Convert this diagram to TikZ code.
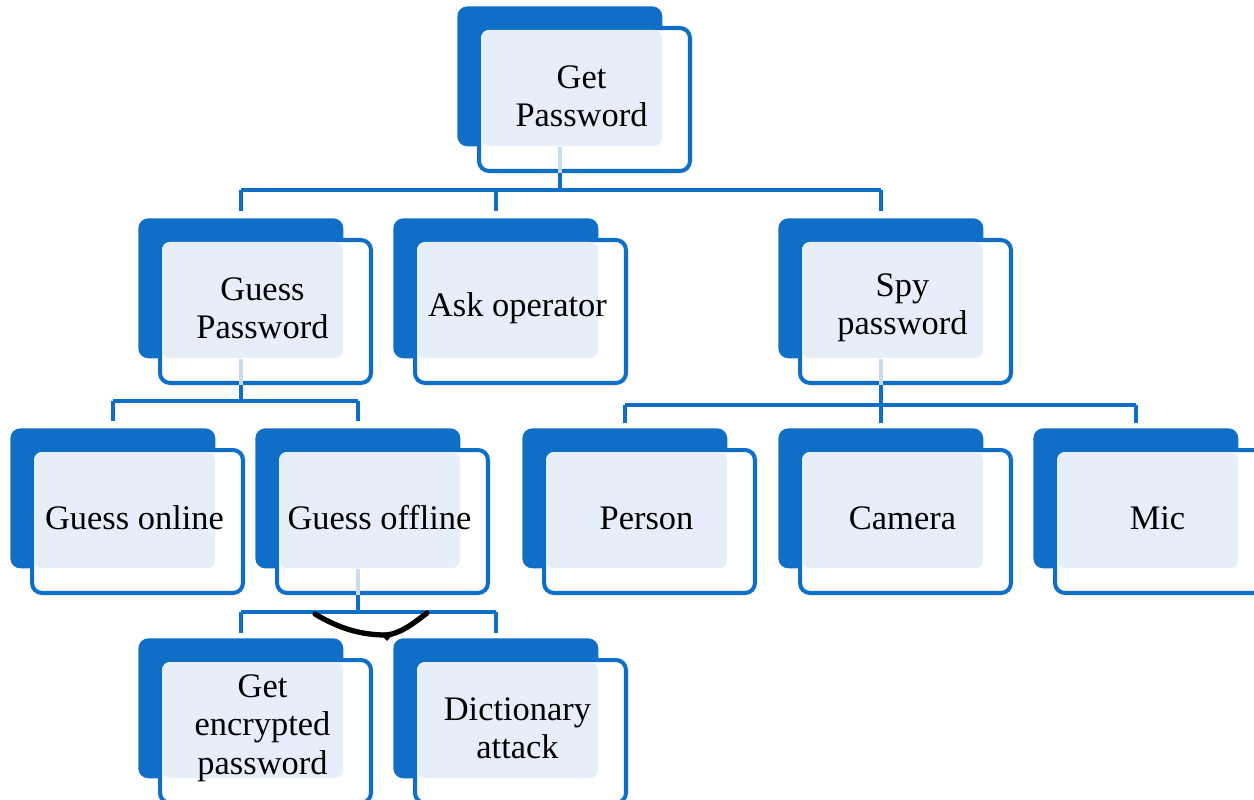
\documentclass[tikz,border=0pt]{standalone}
\usepackage{fontspec}
\setmainfont{Liberation Serif}
\definecolor{dblue}{HTML}{0F6FC6}
\definecolor{lblue}{HTML}{E6EFF9}
\definecolor{faintblue}{HTML}{C9DCF0}
\tikzset{
  backbox/.style={fill=dblue, draw=none, rounded corners=0.2cm, minimum width=4.1cm, minimum height=2.8cm, inner sep=0pt, anchor=north west},
  frontbox/.style={fill=white, draw=dblue, line width=2.3pt, rounded corners=0.2cm, minimum width=4.22cm, minimum height=2.86cm, inner sep=0pt, anchor=north west},
  lightbox/.style={fill=lblue, rounded corners=0.16cm},
  label/.style={draw=none, fill=none, align=center, font=\fontsize{19.6}{21.8}\selectfont, text=black, inner sep=0pt},
  conn/.style={draw=dblue, line width=2.3pt},
  faintconn/.style={draw=faintblue, line width=2.3pt},
}
\newcommand\treebox[4]{%
  \node[backbox] (#1b) at (#2,#3) {};
  \node[frontbox] (#1f) at (#2+20,#3+20) {};
  \fill[lightbox] (#2+24,#3+24) rectangle (#2+205,#3+140);
  \node[label] (#1) at ([xshift=-0.06cm, yshift=0.07cm]#1f.center) {#4};
}
\begin{document}
\begin{tikzpicture}[x=0.02cm, y=-0.02cm]
\useasboundingbox (0,0) rectangle (1254,800);
\fill[white] (0,0) rectangle (1254,800);

\treebox{gp}{457}{6}{Get\\Password}
\treebox{guess}{138}{218}{Guess\\Password}
\treebox{ask}{393}{218}{Ask operator}
\treebox{spy}{778}{218}{Spy\\password}
\treebox{gon}{10}{428}{Guess online}
\treebox{goff}{255}{428}{Guess offline}
\treebox{person}{522}{428}{Person}
\treebox{camera}{778}{428}{Camera}
\treebox{mic}{1033}{428}{Mic}
\treebox{genc}{138}{638}{Get\\encrypted\\password}
\treebox{dict}{393}{638}{Dictionary\\attack}

% bus coordinates
\coordinate (bus1) at (0,190);
\coordinate (bus2) at (0,401);
\coordinate (bus3) at (0,405);
\coordinate (bus4) at (0,612);

% Get Password -> level 2
\draw[faintconn] (gpb.south) -- (gpb.south |- gpf.south);
\draw[conn] (gpb.south |- gpf.south) -- (gpb.south |- bus1);
\draw[conn, shorten >=4pt] (guessb.north |- bus1) -- (guessb.north);
\draw[conn, shorten >=4pt] (askb.north |- bus1) -- (askb.north);
\draw[conn, shorten >=4pt] (spyb.north |- bus1) -- (spyb.north);
\draw[conn] (guessb.north |- bus1) -- (spyb.north |- bus1);

% Guess Password -> level 3
\draw[faintconn] (guessb.south) -- (guessb.south |- guessf.south);
\draw[conn] (guessb.south |- guessf.south) -- (guessb.south |- bus2);
\draw[conn] (gonb.north |- bus2) -- (goffb.north |- bus2);
\draw[conn, shorten >=4pt] (gonb.north |- bus2) -- (gonb.north);
\draw[conn, shorten >=4pt] (goffb.north |- bus2) -- (goffb.north);

% Spy password -> level 3
\draw[faintconn] (spyb.south) -- (spyb.south |- spyf.south);
\draw[conn] (spyb.south |- spyf.south) -- (spyb.south |- bus3);
\draw[conn] (personb.north |- bus3) -- (micb.north |- bus3);
\draw[conn, shorten >=3pt] (personb.north |- bus3) -- (personb.north);
\draw[conn, shorten >=3pt] (camerab.north |- bus3) -- (camerab.north);
\draw[conn, shorten >=3pt] (micb.north |- bus3) -- (micb.north);

% Guess offline -> level 4
\draw[faintconn] (goffb.south) -- (goffb.south |- gofff.south);
\draw[conn] (goffb.south |- gofff.south) -- (goffb.south |- bus4);
\draw[conn] (gencb.north |- bus4) -- (dictb.north |- bus4);
\draw[conn, shorten >=3pt] (gencb.north |- bus4) -- (gencb.north);
\draw[conn, shorten >=3pt] (dictb.north |- bus4) -- (dictb.north);

% hand-drawn AND arc
\draw[black, line width=3pt, line cap=round]
  (315,614) .. controls (340,629) and (362,635) .. (386,635)
  .. controls (400,634) and (414,623) .. (427,613);
\fill[black] (379,633) -- (395,632) -- (387,641) -- cycle;
\end{tikzpicture}
\end{document}
